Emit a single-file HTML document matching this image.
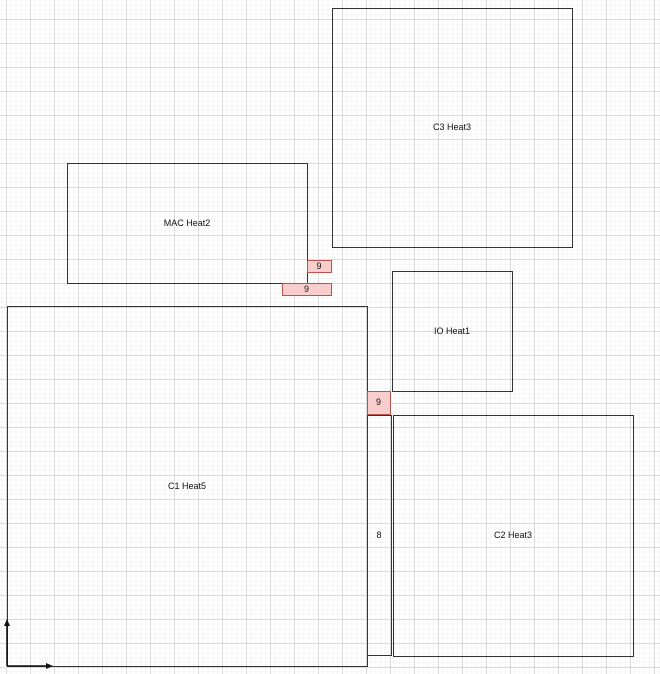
<!DOCTYPE html>
<html><head><style>
html,body{margin:0;padding:0;}
body{width:660px;height:674px;overflow:hidden;background:#fff;position:relative;font-family:"Liberation Sans",sans-serif;
background-image:
linear-gradient(to right,#dcdcdc 1px,transparent 1px),
linear-gradient(to bottom,#dcdcdc 1px,transparent 1px),
linear-gradient(to right,#f5f5f5 1px,transparent 1px),
linear-gradient(to bottom,#f5f5f5 1px,transparent 1px);
background-size:24px 24px,24px 24px,4.8px 4.8px,4.8px 4.8px;
background-position:6px 19px,6px 19px,6px 19px,6px 19px;}
.b{position:absolute;box-sizing:border-box;border:1px solid #333;display:flex;align-items:center;justify-content:center;font-size:9px;color:#111;padding-bottom:2px;padding-right:1px;}
.p{background:#f8cecc;border-color:#b85450;}
</style></head><body>
<div class="b" style="left:332px;top:8px;width:241px;height:240px;">C3 Heat3</div>
<div class="b" style="left:67px;top:163px;width:241px;height:121px;">MAC Heat2</div>
<div class="b p" style="left:307px;top:260px;width:25px;height:13px;">9</div>
<div class="b p" style="left:282px;top:283px;width:50px;height:13px;">9</div>
<div class="b" style="left:392px;top:271px;width:121px;height:121px;">IO Heat1</div>
<div class="b" style="left:7px;top:306px;width:361px;height:361px;">C1 Heat5</div>
<div class="b p" style="left:367px;top:391px;width:24px;height:24px;">9</div>
<div class="b" style="left:367px;top:415px;width:25px;height:241px;">8</div>
<div class="b" style="left:393px;top:415px;width:241px;height:242px;">C2 Heat3</div>
<svg width="660" height="674" style="position:absolute;left:0;top:0">
<path d="M7 666 V624 M7 666 H48" stroke="#111" stroke-width="1.5" fill="none"/>
<polygon points="7,619 4,626 10,626" fill="#111"/>
<polygon points="53,666 46,663 46,669" fill="#111"/>
</svg>
</body></html>
